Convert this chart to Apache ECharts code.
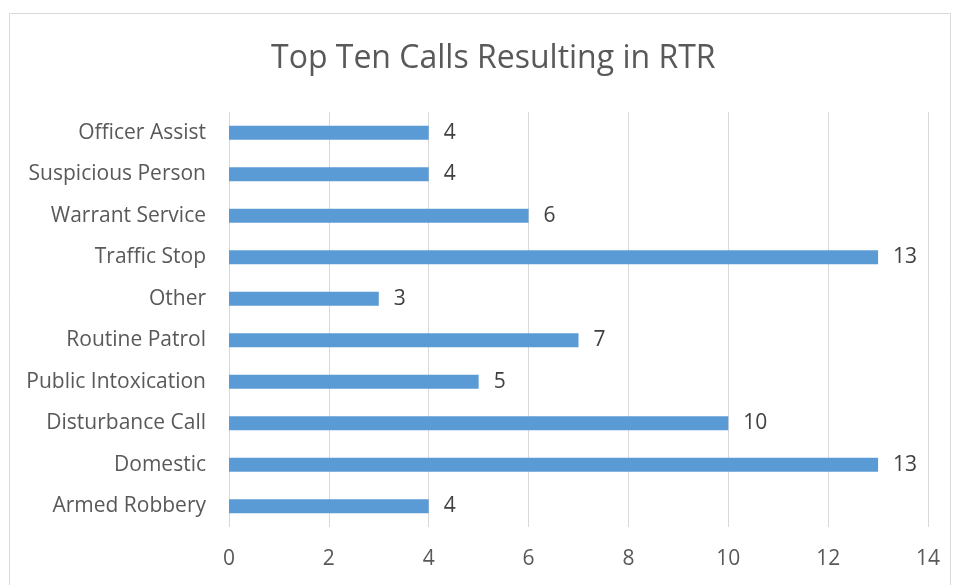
<!DOCTYPE html>
<html>
<head>
<meta charset="utf-8">
<script src="https://cdn.jsdelivr.net/npm/echarts@6/dist/echarts.min.js"></script>
<style>
  html, body { margin: 0; padding: 0; background: #fff; }
  #chart { width: 954px; height: 585px; }
</style>
</head>
<body>
<div id="chart"></div>
<script>
// categories bottom -> top (as ECharts draws category y axis)
var categories = ["Armed Robbery", "Domestic", "Disturbance Call", "Public Intoxication", "Routine Patrol",
  "Other", "Traffic Stop", "Warrant Service", "Suspicious Person", "Officer Assist"];
var counts = [4, 13, 10, 5, 7, 3, 13, 6, 4, 4];

var myChart = echarts.init(document.getElementById("chart"));
var font = "'Open Sans', 'Noto Sans', sans-serif";
var option = {
  animation: false,
  graphic: [{
    type: "rect",
    shape: { x: 9.5, y: 13.5, width: 941, height: 600 },
    style: { fill: "none", stroke: "#d9d9d9", lineWidth: 1 },
    silent: true
  }],
  title: {
    text: "Top Ten Calls Resulting in RTR",
    left: 266,
    top: 38,
    textStyle: { color: "#595959", fontFamily: font, fontSize: 32, fontWeight: "normal" }
  },
  grid: { left: 229, right: 26, top: 112, bottom: 58 },
  xAxis: {
    type: "value",
    min: 0,
    max: 14,
    interval: 2,
    axisLine: { show: false },
    axisTick: { show: false },
    axisLabel: { color: "#595959", fontFamily: font, fontSize: 21, margin: 22 },
    splitLine: { lineStyle: { color: "#d9d9d9", width: 1 } }
  },
  yAxis: {
    type: "category",
    data: categories,
    axisLine: { show: false },
    axisTick: { show: false },
    axisLabel: { color: "#595959", fontFamily: font, fontSize: 21, margin: 23 }
  },
  series: [{
    type: "bar",
    data: counts,
    barWidth: 14,
    itemStyle: { color: "#5b9bd5" },
    label: {
      show: true,
      position: "right",
      distance: 15,
      color: "#404040",
      fontFamily: font,
      fontSize: 21
    }
  }]
};
myChart.setOption(option);
</script>
</body>
</html>
